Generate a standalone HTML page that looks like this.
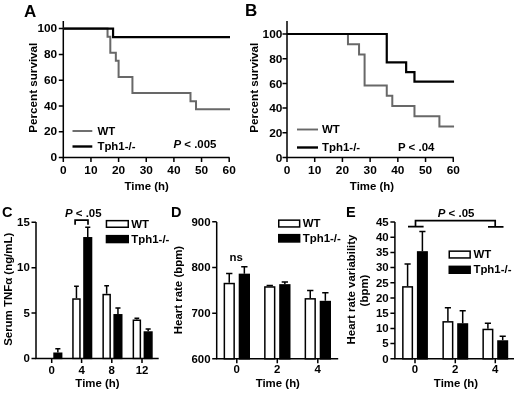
<!DOCTYPE html>
<html><head><meta charset="utf-8"><title>Figure</title>
<style>
html,body{margin:0;padding:0;background:#fff;}
body{width:520px;height:393px;overflow:hidden;}
svg{display:block;will-change:transform;filter:grayscale(1);}
svg text{font-family:"Liberation Sans",sans-serif;font-weight:bold;fill:#000;}
.ax{stroke:#000;stroke-width:1.5;fill:none;}
.bk{stroke:#000;stroke-width:2.2;fill:none;}
.gy{stroke:#686868;stroke-width:2;fill:none;}
.eb{stroke:#000;stroke-width:1.5;fill:none;}
.br{stroke:#000;stroke-width:1.7;fill:none;}
.wb{fill:#fff;stroke:#000;stroke-width:1.5;}
.bb{fill:#000;stroke:#000;stroke-width:1.5;}
</style></head><body>
<svg width="520" height="393" viewBox="0 0 520 393">
<rect x="0" y="0" width="520" height="393" fill="#fff"/>
<text x="24" y="16.5" font-size="17" text-anchor="start">A</text>
<path class="ax" d="M63.3 21V157.6H229.5"/>
<path class="ax" d="M58.8 157.6H63.3M58.8 131.8H63.3M58.8 106H63.3M58.8 80.2H63.3M58.8 54.4H63.3M58.8 28.6H63.3M63.3 157.6V162.1M90.95 157.6V162.1M118.6 157.6V162.1M146.25 157.6V162.1M173.9 157.6V162.1M201.55 157.6V162.1M229.2 157.6V162.1"/>
<text transform="translate(57.2 161.26) scale(1.08 1)" font-size="11" text-anchor="end">0</text>
<text transform="translate(57.2 135.46) scale(1.08 1)" font-size="11" text-anchor="end">20</text>
<text transform="translate(57.2 109.66) scale(1.08 1)" font-size="11" text-anchor="end">40</text>
<text transform="translate(57.2 83.86) scale(1.08 1)" font-size="11" text-anchor="end">60</text>
<text transform="translate(57.2 58.06) scale(1.08 1)" font-size="11" text-anchor="end">80</text>
<text transform="translate(57.2 32.26) scale(1.08 1)" font-size="11" text-anchor="end">100</text>
<text transform="translate(63.3 173.6) scale(1.08 1)" font-size="11" text-anchor="middle">0</text>
<text transform="translate(90.95 173.6) scale(1.08 1)" font-size="11" text-anchor="middle">10</text>
<text transform="translate(118.6 173.6) scale(1.08 1)" font-size="11" text-anchor="middle">20</text>
<text transform="translate(146.25 173.6) scale(1.08 1)" font-size="11" text-anchor="middle">30</text>
<text transform="translate(173.9 173.6) scale(1.08 1)" font-size="11" text-anchor="middle">40</text>
<text transform="translate(201.55 173.6) scale(1.08 1)" font-size="11" text-anchor="middle">50</text>
<text transform="translate(229.2 173.6) scale(1.08 1)" font-size="11" text-anchor="middle">60</text>
<text transform="translate(146.7 189.7) scale(1.04 1)" font-size="11" text-anchor="middle">Time (h)</text>
<text transform="translate(37 87.7) rotate(-90) scale(1.06 1)" font-size="11" text-anchor="middle">Percent survival</text>
<path class="gy" d="M63.3 28.6H107.54V36.66H110.31V52.79H115.84V60.85H118.6V76.97H132.43V93.1H190.49V101.16H196.02V109.22H230"/>
<path class="bk" d="M63.3 28.6H113.07V37.2H230"/>
<path class="gy" style="stroke-width:1.9" d="M72.5 131H92.3"/>
<path class="bk" style="stroke-width:2.4" d="M72.5 146.5H92.3"/>
<text transform="translate(97.4 134.96) scale(1.04 1)" font-size="11" text-anchor="start">WT</text>
<text transform="translate(97.4 150.46) scale(1.04 1)" font-size="11" text-anchor="start">Tph1-/-</text>
<text transform="translate(173.5 148.3) scale(1.04 1)" font-size="11" text-anchor="start"><tspan font-style="italic">P</tspan> &lt; .005</text>
<text x="245" y="16.1" font-size="17" text-anchor="start">B</text>
<path class="ax" d="M287 21V157.5H453.8"/>
<path class="ax" d="M282.5 157.5H287M282.5 132.8H287M282.5 108.1H287M282.5 83.4H287M282.5 58.7H287M282.5 34H287M287 157.5V162M314.71 157.5V162M342.42 157.5V162M370.13 157.5V162M397.84 157.5V162M425.55 157.5V162M453.26 157.5V162"/>
<text transform="translate(282.4 161.76) scale(1.08 1)" font-size="11" text-anchor="end">0</text>
<text transform="translate(282.4 137.06) scale(1.08 1)" font-size="11" text-anchor="end">20</text>
<text transform="translate(282.4 112.36) scale(1.08 1)" font-size="11" text-anchor="end">40</text>
<text transform="translate(282.4 87.66) scale(1.08 1)" font-size="11" text-anchor="end">60</text>
<text transform="translate(282.4 62.96) scale(1.08 1)" font-size="11" text-anchor="end">80</text>
<text transform="translate(282.4 38.26) scale(1.08 1)" font-size="11" text-anchor="end">100</text>
<text transform="translate(287 173.6) scale(1.08 1)" font-size="11" text-anchor="middle">0</text>
<text transform="translate(314.71 173.6) scale(1.08 1)" font-size="11" text-anchor="middle">10</text>
<text transform="translate(342.42 173.6) scale(1.08 1)" font-size="11" text-anchor="middle">20</text>
<text transform="translate(370.13 173.6) scale(1.08 1)" font-size="11" text-anchor="middle">30</text>
<text transform="translate(397.84 173.6) scale(1.08 1)" font-size="11" text-anchor="middle">40</text>
<text transform="translate(425.55 173.6) scale(1.08 1)" font-size="11" text-anchor="middle">50</text>
<text transform="translate(453.26 173.6) scale(1.08 1)" font-size="11" text-anchor="middle">60</text>
<text transform="translate(372 189.7) scale(1.04 1)" font-size="11" text-anchor="middle">Time (h)</text>
<text transform="translate(257.9 87.7) rotate(-90) scale(1.06 1)" font-size="11" text-anchor="middle">Percent survival</text>
<path class="gy" d="M287 34H347.96V44.25H359.05V54.62H364.59V85.5H386.76V95.75H392.3V106H414.47V116.37H439.4V126.62H454.06"/>
<path class="bk" d="M287 34H386.76V62.4H406.15V72.04H414.47V81.55H454.06"/>
<path class="gy" style="stroke-width:1.9" d="M297 129.5H318"/>
<path class="bk" style="stroke-width:2.4" d="M297 147.5H318"/>
<text transform="translate(322 133.46) scale(1.04 1)" font-size="11" text-anchor="start">WT</text>
<text transform="translate(322 151.46) scale(1.04 1)" font-size="11" text-anchor="start">Tph1-/-</text>
<text transform="translate(398 151) scale(1.04 1)" font-size="11" text-anchor="start">P &lt; .04</text>
<text x="2" y="217" font-size="14.5" text-anchor="start">C</text>
<path class="ax" d="M36 222V358.4H158.7"/>
<path class="ax" d="M31.5 358.4H36M31.5 313.05H36M31.5 267.7H36M31.5 222.35H36M51.7 358.4V362.9M81.6 358.4V362.9M111.8 358.4V362.9M142 358.4V362.9"/>
<text transform="translate(29.8 362.18) scale(1.09 1)" font-size="10.5" text-anchor="end">0</text>
<text transform="translate(29.8 316.83) scale(1.09 1)" font-size="10.5" text-anchor="end">5</text>
<text transform="translate(29.8 271.48) scale(1.09 1)" font-size="10.5" text-anchor="end">10</text>
<text transform="translate(29.8 226.13) scale(1.09 1)" font-size="10.5" text-anchor="end">15</text>
<text transform="translate(51.7 373.8) scale(1.09 1)" font-size="10.5" text-anchor="middle">0</text>
<text transform="translate(81.6 373.8) scale(1.09 1)" font-size="10.5" text-anchor="middle">4</text>
<text transform="translate(111.8 373.8) scale(1.09 1)" font-size="10.5" text-anchor="middle">8</text>
<text transform="translate(142 373.8) scale(1.09 1)" font-size="10.5" text-anchor="middle">12</text>
<path class="eb" d="M57.85 352.5V348.7M55.3 348.7H60.4"/>
<rect class="bb" x="54.05" y="353.25" width="7.6" height="5.15"/>
<path class="eb" d="M76.45 298.27V286.29M74.07 286.29H78.83"/>
<rect class="wb" x="72.95" y="299.02" width="7" height="59.38"/>
<path class="eb" d="M87.75 237.04V227.25M85.2 227.25H90.3"/>
<rect class="bb" x="83.95" y="237.79" width="7.6" height="120.61"/>
<path class="eb" d="M106.65 293.82V285.66M104.27 285.66H109.03"/>
<rect class="wb" x="103.15" y="294.57" width="7" height="63.83"/>
<path class="eb" d="M117.95 314.05V307.97M115.4 307.97H120.5"/>
<rect class="bb" x="114.15" y="314.8" width="7.6" height="43.6"/>
<path class="eb" d="M136.85 319.49V318.13M134.47 318.13H139.23"/>
<rect class="wb" x="133.35" y="320.24" width="7" height="38.16"/>
<path class="eb" d="M148.15 331.28V329.01M145.6 329.01H150.7"/>
<rect class="bb" x="144.35" y="332.03" width="7.6" height="26.37"/>
<text transform="translate(97.5 387.3) scale(1.09 1)" font-size="10.5" text-anchor="middle">Time (h)</text>
<text transform="translate(12.2 289.3) rotate(-90) scale(1.09 1)" font-size="10.5" text-anchor="middle">Serum TNF&#945; (ng/mL)</text>
<rect class="wb" x="106.45" y="220.65" width="21.8" height="6.6"/>
<rect class="bb" x="106.45" y="235.65" width="21.8" height="6.9"/>
<text transform="translate(131.3 227.5) scale(1.09 1)" font-size="10.5" text-anchor="start">WT</text>
<text transform="translate(131.3 242.7) scale(1.09 1)" font-size="10.5" text-anchor="start">Tph1-/-</text>
<text transform="translate(65 216.5) scale(1.09 1)" font-size="10.5" text-anchor="start"><tspan font-style="italic">P</tspan> &lt; .05</text>
<path class="br" d="M75.1 224.8V220.2H88V224.8"/>
<text x="171" y="217" font-size="14.5" text-anchor="start">D</text>
<path class="ax" d="M216.7 222V358.8H338.2"/>
<path class="ax" d="M212.2 358.8H216.7M212.2 313.15H216.7M212.2 267.5H216.7M212.2 221.85H216.7M236.8 358.8V363.3M277.3 358.8V363.3M317.8 358.8V363.3"/>
<text transform="translate(210.5 362.58) scale(1.09 1)" font-size="10.5" text-anchor="end">600</text>
<text transform="translate(210.5 316.93) scale(1.09 1)" font-size="10.5" text-anchor="end">700</text>
<text transform="translate(210.5 271.28) scale(1.09 1)" font-size="10.5" text-anchor="end">800</text>
<text transform="translate(210.5 225.63) scale(1.09 1)" font-size="10.5" text-anchor="end">900</text>
<text transform="translate(236.8 373) scale(1.09 1)" font-size="10.5" text-anchor="middle">0</text>
<text transform="translate(277.3 373) scale(1.09 1)" font-size="10.5" text-anchor="middle">2</text>
<text transform="translate(317.8 373) scale(1.09 1)" font-size="10.5" text-anchor="middle">4</text>
<path class="eb" d="M229.25 282.79V273.43M226.09 273.43H232.41"/>
<rect class="wb" x="224.35" y="283.54" width="9.8" height="75.26"/>
<path class="eb" d="M244.35 273.66V266.82M241.19 266.82H247.51"/>
<rect class="bb" x="239.45" y="274.41" width="9.8" height="84.39"/>
<path class="eb" d="M269.75 286.22V285.53M266.59 285.53H272.91"/>
<rect class="wb" x="264.85" y="286.97" width="9.8" height="71.83"/>
<path class="eb" d="M284.85 284.16V281.88M281.69 281.88H288.01"/>
<rect class="bb" x="279.95" y="284.91" width="9.8" height="73.89"/>
<path class="eb" d="M310.25 298.09V290.55M307.09 290.55H313.41"/>
<rect class="wb" x="305.35" y="298.84" width="9.8" height="59.96"/>
<path class="eb" d="M325.35 300.82V292.84M322.19 292.84H328.51"/>
<rect class="bb" x="320.45" y="301.57" width="9.8" height="57.23"/>
<text transform="translate(277.8 386.5) scale(1.09 1)" font-size="10.5" text-anchor="middle">Time (h)</text>
<text transform="translate(182 290) rotate(-90) scale(1.09 1)" font-size="10.5" text-anchor="middle">Heart rate (bpm)</text>
<rect class="wb" x="278.75" y="220.15" width="20.9" height="6.8"/>
<rect class="bb" x="278.75" y="234.65" width="20.9" height="7.3"/>
<text transform="translate(302.7 227.2) scale(1.09 1)" font-size="10.5" text-anchor="start">WT</text>
<text transform="translate(302.7 242.1) scale(1.09 1)" font-size="10.5" text-anchor="start">Tph1-/-</text>
<text transform="translate(236.2 260.9) scale(1.09 1)" font-size="10.5" text-anchor="middle">ns</text>
<text x="346" y="217" font-size="14.5" text-anchor="start">E</text>
<path class="ax" d="M394.9 222V358.8H514"/>
<path class="ax" d="M390.4 358.8H394.9M390.4 343.6H394.9M390.4 328.4H394.9M390.4 313.2H394.9M390.4 298H394.9M390.4 282.8H394.9M390.4 267.6H394.9M390.4 252.4H394.9M390.4 237.2H394.9M390.4 222H394.9M415 358.8V363.3M455.3 358.8V363.3M495.3 358.8V363.3"/>
<text transform="translate(388.7 362.58) scale(1.09 1)" font-size="10.5" text-anchor="end">0</text>
<text transform="translate(388.7 347.38) scale(1.09 1)" font-size="10.5" text-anchor="end">5</text>
<text transform="translate(388.7 332.18) scale(1.09 1)" font-size="10.5" text-anchor="end">10</text>
<text transform="translate(388.7 316.98) scale(1.09 1)" font-size="10.5" text-anchor="end">15</text>
<text transform="translate(388.7 301.78) scale(1.09 1)" font-size="10.5" text-anchor="end">20</text>
<text transform="translate(388.7 286.58) scale(1.09 1)" font-size="10.5" text-anchor="end">25</text>
<text transform="translate(388.7 271.38) scale(1.09 1)" font-size="10.5" text-anchor="end">30</text>
<text transform="translate(388.7 256.18) scale(1.09 1)" font-size="10.5" text-anchor="end">35</text>
<text transform="translate(388.7 240.98) scale(1.09 1)" font-size="10.5" text-anchor="end">40</text>
<text transform="translate(388.7 225.78) scale(1.09 1)" font-size="10.5" text-anchor="end">45</text>
<text transform="translate(415 373.2) scale(1.09 1)" font-size="10.5" text-anchor="middle">0</text>
<text transform="translate(455.3 373.2) scale(1.09 1)" font-size="10.5" text-anchor="middle">2</text>
<text transform="translate(495.3 373.2) scale(1.09 1)" font-size="10.5" text-anchor="middle">4</text>
<path class="eb" d="M407.6 286.14V263.95M404.52 263.95H410.68"/>
<rect class="wb" x="402.85" y="286.89" width="9.5" height="71.91"/>
<path class="eb" d="M422.4 251.18V231.42M419.32 231.42H425.48"/>
<rect class="bb" x="417.65" y="251.93" width="9.5" height="106.87"/>
<path class="eb" d="M447.9 321.1V307.73M444.82 307.73H450.98"/>
<rect class="wb" x="443.15" y="321.85" width="9.5" height="36.95"/>
<path class="eb" d="M462.7 323.23V310.77M459.62 310.77H465.78"/>
<rect class="bb" x="457.95" y="323.98" width="9.5" height="34.82"/>
<path class="eb" d="M487.9 328.7V323.23M484.82 323.23H490.98"/>
<rect class="wb" x="483.15" y="329.45" width="9.5" height="29.35"/>
<path class="eb" d="M502.7 340.26V336.3M499.62 336.3H505.78"/>
<rect class="bb" x="497.95" y="341.01" width="9.5" height="17.79"/>
<text transform="translate(456 387.2) scale(1.09 1)" font-size="10.5" text-anchor="middle">Time (h)</text>
<text transform="translate(355 289.5) rotate(-90) scale(1.09 1)" font-size="10.5" text-anchor="middle">Heart rate variability</text>
<text transform="translate(368 290.5) rotate(-90) scale(1.09 1)" font-size="10.5" text-anchor="middle">(bpm)</text>
<rect class="wb" x="449.25" y="251.15" width="20.9" height="6.8"/>
<rect class="bb" x="449.25" y="266.35" width="20.9" height="6.9"/>
<text transform="translate(473.4 258.2) scale(1.09 1)" font-size="10.5" text-anchor="start">WT</text>
<text transform="translate(473.4 273.4) scale(1.09 1)" font-size="10.5" text-anchor="start">Tph1-/-</text>
<text transform="translate(437.8 217.4) scale(1.09 1)" font-size="10.5" text-anchor="start"><tspan font-style="italic">P</tspan> &lt; .05</text>
<path class="br" d="M408 226.6H423.6M415.5 226.6V220.7H495.2V226.9M488 226.9H503.5"/>
</svg>
</body></html>
